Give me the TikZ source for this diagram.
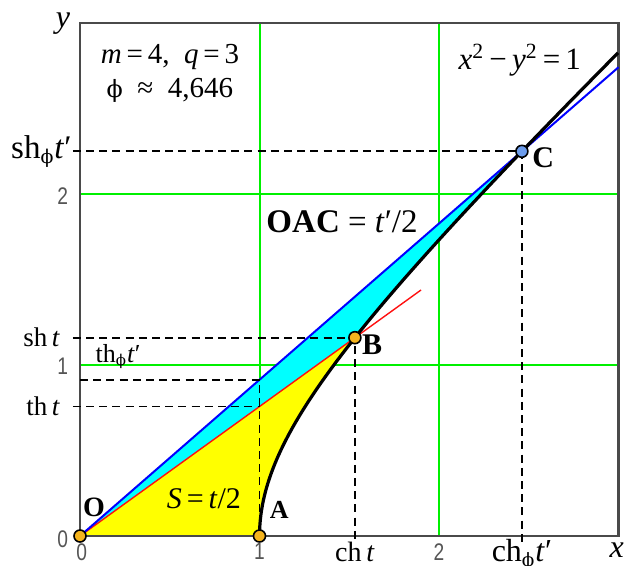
\documentclass[tikz,border=0pt]{standalone}
\usepackage{fontspec}
\setmainfont{Liberation Serif}
\newfontfamily\tickfont[FakeStretch=0.8]{Liberation Sans}
\newfontfamily\phifont[Scale=0.82]{DejaVu Serif}
\usepackage{xcolor}
\usepackage{tikz}
\usetikzlibrary{calc}
\definecolor{gridgreen}{HTML}{00F000}
\definecolor{areayellow}{HTML}{FFFF00}
\definecolor{areacyan}{HTML}{00FFFF}
\definecolor{rayblue}{HTML}{0000FF}
\definecolor{rayred}{HTML}{FF1010}
\definecolor{dotorange}{HTML}{F5B41E}
\definecolor{dotblue}{HTML}{6C9CEC}
\definecolor{framegray}{HTML}{4A4A4A}
\definecolor{tickgray}{HTML}{555555}
\newcommand{\FontAt}[1]{\fontsize{#1}{#1}\selectfont}
\newcommand{\PhiSym}{{\phifont ϕ}}
\newcommand{\tOne}{0.99}
\newcommand{\tTwo}{1.55}
\tikzset{
  gridline/.style={gridgreen,line width=1pt},
  guide/.style={black,line width=0.85pt,dash pattern=on 4pt off 2.6pt},
  dot/.style={circle,draw=black,line width=0.8pt,inner sep=0pt,minimum size=6pt},
  lbl/.style={inner sep=0pt,font=\FontAt{13}},
  pointname/.style={inner sep=0pt,font=\FontAt{14}\bfseries},
  tick/.style={inner sep=0pt,text=tickgray,font=\tickfont\FontAt{12}}
}

\begin{document}
\begin{tikzpicture}[x=89.75pt,y=85.5pt]
          \useasboundingbox (-0.4457,-0.1696) rectangle (3.0362,3.1345);
          \pgfmathsetmacro{\chOne}{cosh(\tOne)}
          \pgfmathsetmacro{\shOne}{sinh(\tOne)}
          \pgfmathsetmacro{\thOne}{tanh(\tOne)}
          \pgfmathsetmacro{\chTwo}{cosh(\tTwo)}
          \pgfmathsetmacro{\shTwo}{sinh(\tTwo)}
          \pgfmathsetmacro{\thTwo}{tanh(\tTwo)}
          \coordinate (pO) at (0,0);
          \coordinate (pA) at (1,0);
          \coordinate (pB) at (\chOne,\shOne);
          \coordinate (pC) at (\chTwo,\shTwo);
          \coordinate (pThOne) at (1,\thOne);
          \coordinate (pThTwo) at (1,\thTwo);
          \coordinate (blueEnd) at (3,3*\thTwo);
          \coordinate (redEnd) at (1.9,1.9*\thOne);
          \coordinate (shTwoEnd) at (-0.04,\shTwo);
          \coordinate (shOneEnd) at (-0.04,\shOne);
          \coordinate (thOneEnd) at (-0.04,\thOne);
          \coordinate (thTwoEnd) at (0,\thTwo);
          \coordinate (chOneEnd) at (\chOne,-0.045);
          \coordinate (chTwoEnd) at (\chTwo,-0.045);
          \foreach \g in {1,2} {
            \draw[gridline] (\g,0) -- (\g,3);
            \draw[gridline] (0,\g) -- (3,\g);
          }
          \fill[areayellow] (pO) -- (pB) -- plot[domain=\tOne:0,samples=40] ({cosh(\x)},{sinh(\x)}) -- cycle;
          \fill[areacyan] (pO) -- (pC) -- plot[domain=\tTwo:\tOne,samples=40] ({cosh(\x)},{sinh(\x)}) -- cycle;
          \draw[framegray,line width=1.2pt] (0,0) rectangle (3,3);
          \draw[rayred,line width=0.7pt] (pO) -- (redEnd);
          \draw[rayblue,line width=1pt] (pO) -- (blueEnd);
          \draw[black,line width=1.6pt] plot[domain=0:1.7627,samples=60] ({cosh(\x)},{sinh(\x)});
          \draw[guide] (shTwoEnd) -- (pC) -- (chTwoEnd);
          \draw[guide] (shOneEnd) -- (pB) -- (chOneEnd);
          \draw[guide] (thTwoEnd) -- (pThTwo) -- (pA);
          \draw[guide] (thOneEnd) -- (pThOne);
          \foreach \p/\c in {O/dotorange,A/dotorange,B/dotorange,C/dotblue}
            \node[dot,fill=\c] (\p) at (p\p) {};
          \node[pointname] (nameO) at (0.078,0.170) {O};
          \node[pointname,font=\FontAt{13}\bfseries] (nameA) at (1.11,0.152) {A};
          \node[pointname,font=\FontAt{15}\bfseries] (nameB) at (1.627,1.117) {B};
          \node[pointname,font=\FontAt{15}\bfseries] (nameC) at (2.58,2.21) {C};
          \node[lbl,font=\FontAt{15}] (areaS) at (0.69,0.22) {\textit{S}\,=\,\textit{t}/2};
          \node[lbl,font=\FontAt{16.5}] (areaOAC) at (1.46,1.836) {\textbf{OAC} = \textit{t}′/2};
          \node[lbl,font=\FontAt{15.5}] (hyperbola) at (2.45,2.784) {\textit{x}\textsuperscript{2}\,−\,\textit{y}\textsuperscript{2}\,=\,1};
          \node[lbl,font=\FontAt{14.5}] (params) at (0.501,2.80) {\textit{m}\,=\,4,\ \ \textit{q}\,=\,3};
          \node[lbl,font=\FontAt{14.5}] (phival) at (0.501,2.608) {\PhiSym\ \ ≈\ \ 4,646};
          \node[lbl,font=\FontAt{16.5},anchor=east] (labShTwo) at (-0.045,\shTwo) {sh\textsubscript{\PhiSym}\textit{t}′};
          \node[lbl,font=\FontAt{13.5},anchor=east] (labShOne) at (-0.11,\shOne) {sh\,\textit{t}};
          \node[lbl,font=\FontAt{13.5},anchor=east] (labThOne) at (-0.11,\thOne) {th\,\textit{t}};
          \node[lbl,font=\FontAt{13},anchor=west] (labThTwo) at (0.085,1.05) {th\textsubscript{\PhiSym}\textit{t}′};
          \node[lbl,font=\FontAt{14},anchor=base] (labChOne) at (\chOne,-0.15) {ch\,\textit{t}};
          \node[lbl,font=\FontAt{16},anchor=base] (labChTwo) at (\chTwo,-0.15) {ch\textsubscript{\PhiSym}\textit{t}′};
          \node[lbl,font=\FontAt{16}] (axisY) at (-0.095,2.995) {\textit{y}};
          \node[lbl,font=\FontAt{16}] (axisX) at (2.99,-0.085) {\textit{x}};
          \foreach \v/\py in {0/-0.02,1/0.99,2/1.985}
            \node[tick,anchor=east] (tickY\v) at (-0.065,\py) {\v};
          \foreach \v/\px in {0/0.01,1/1,2/2}
            \node[tick,anchor=north] (tickX\v) at (\px,-0.04) {\v};
        \end{tikzpicture}
\end{document}
